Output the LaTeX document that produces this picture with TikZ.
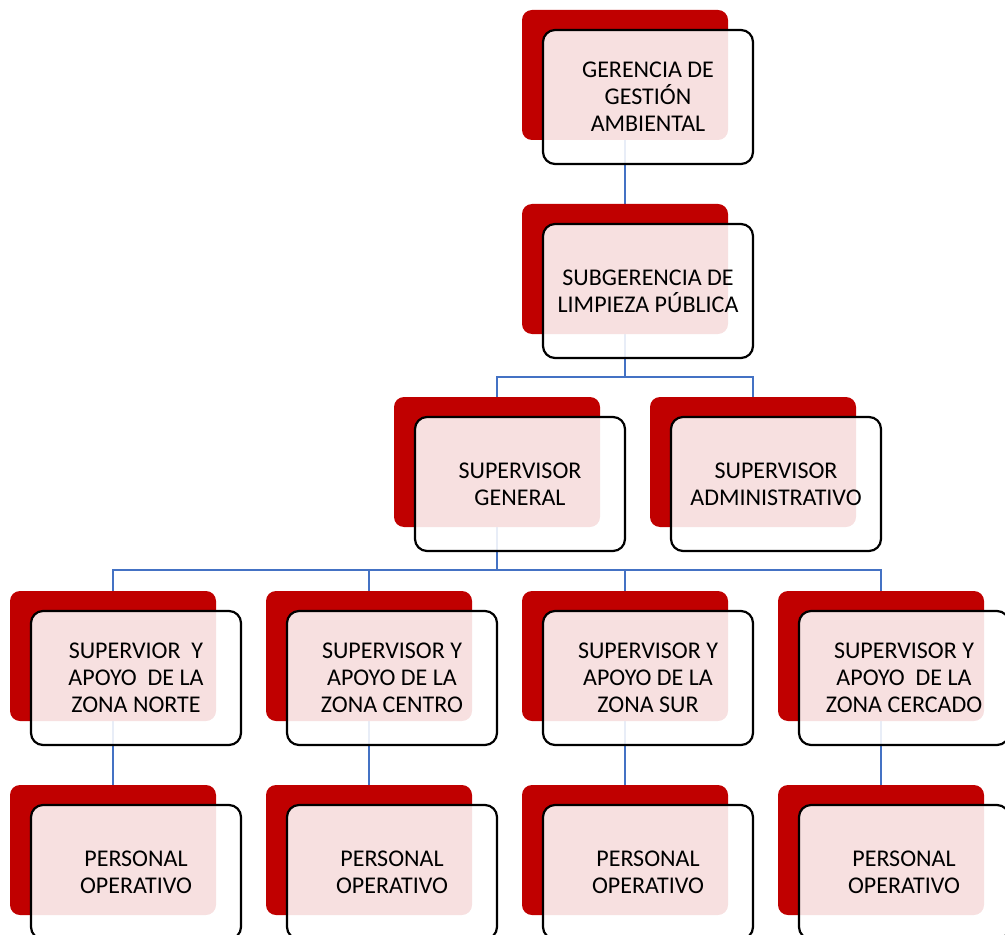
\documentclass[tikz,border=0pt]{standalone}
\usepackage{fontspec}
\setmainfont{Carlito}
\usetikzlibrary{positioning,backgrounds}
\definecolor{r192g0b0}{rgb}{0.752941,0.000000,0.000000}
\definecolor{r68g114b196}{rgb}{0.266667,0.447059,0.768627}
\tikzset{
  redback/.style={fill=r192g0b0, rounded corners=5pt, minimum width=103pt,
    minimum height=65pt, inner sep=0pt},
  frontbox/.style={draw=black, line width=1.1pt, fill=white, fill opacity=0.88,
    text opacity=1, rounded corners=6pt, minimum width=105pt, minimum height=67pt,
    inner sep=0pt, align=center, font=\fontsize{12}{13.5}\selectfont},
  conn/.style={draw=r68g114b196, line width=1pt}
}
\begin{document}
\begin{tikzpicture}[x=0.5pt,y=-0.5pt]
  \useasboundingbox (0,0) rectangle (1005,935);
  \clip (0,0) rectangle (1005,935);

  % Gerencia
  \node[redback] (gerr) at (625,75) {};
  \node[frontbox] (ger) at ([shift={(23,22)}]gerr.center) {GERENCIA DE\\GESTIÓN\\AMBIENTAL};

  % Subgerencia
  \node[redback] (subr) at (625,269) {};
  \node[frontbox] (sub) at ([shift={(23,22)}]subr.center) {SUBGERENCIA DE\\LIMPIEZA PÚBLICA};

  % Supervisores
  \node[redback] (genr) at (497,462) {};
  \node[frontbox] (gen) at ([shift={(23,22)}]genr.center) {SUPERVISOR\\GENERAL};
  \node[redback] (admr) at (753,462) {};
  \node[frontbox] (adm) at ([shift={(23,22)}]admr.center) {SUPERVISOR\\ADMINISTRATIVO};

  % Zonas
  \node[redback] (norr) at (113,656) {};
  \node[frontbox] (nor) at ([shift={(23,22)}]norr.center) {SUPERVIOR\ \ Y\\APOYO\ \ DE LA\\ZONA NORTE};
  \node[redback] (cenr) at (369,656) {};
  \node[frontbox] (cen) at ([shift={(23,22)}]cenr.center) {SUPERVISOR Y\\APOYO DE LA\\ZONA CENTRO};
  \node[redback] (surr) at (625,656) {};
  \node[frontbox] (sur) at ([shift={(23,22)}]surr.center) {SUPERVISOR Y\\APOYO DE LA\\ZONA SUR};
  \node[redback] (cerr) at (881,656) {};
  \node[frontbox] (cer) at ([shift={(23,22)}]cerr.center) {SUPERVISOR Y\\APOYO\ \ DE LA\\ZONA CERCADO};

  % Personal operativo
  \foreach \z/\x in {nor/113,cen/369,sur/625,cer/881}{
    \node[redback] (\z pr) at (\x,850) {};
    \node[frontbox] (\z p) at ([shift={(23,22)}]\z pr.center) {PERSONAL\\OPERATIVO};
  }

  % Connectors
  \coordinate (bus3) at (625,377);
  \coordinate (bus4) at (497,570);
  \begin{pgfonlayer}{background}
    \draw[conn] (gerr.south) -- (subr.north);
    \draw[conn] (subr.south) -- (subr.south |- bus3);
    \draw[conn] (genr.north) |- (admr.north |- bus3) -- (admr.north);
    \draw[conn] (genr.south) -- (genr.south |- bus4);
    \draw[conn] (norr.north) |- (cerr.north |- bus4) -- (cerr.north);
    \draw[conn] (cenr.north) -- (cenr.north |- bus4);
    \draw[conn] (surr.north) -- (surr.north |- bus4);
    \foreach \z in {nor,cen,sur,cer}
      \draw[conn] (\z r.south) -- (\z pr.north);
  \end{pgfonlayer}
\end{tikzpicture}
\end{document}
